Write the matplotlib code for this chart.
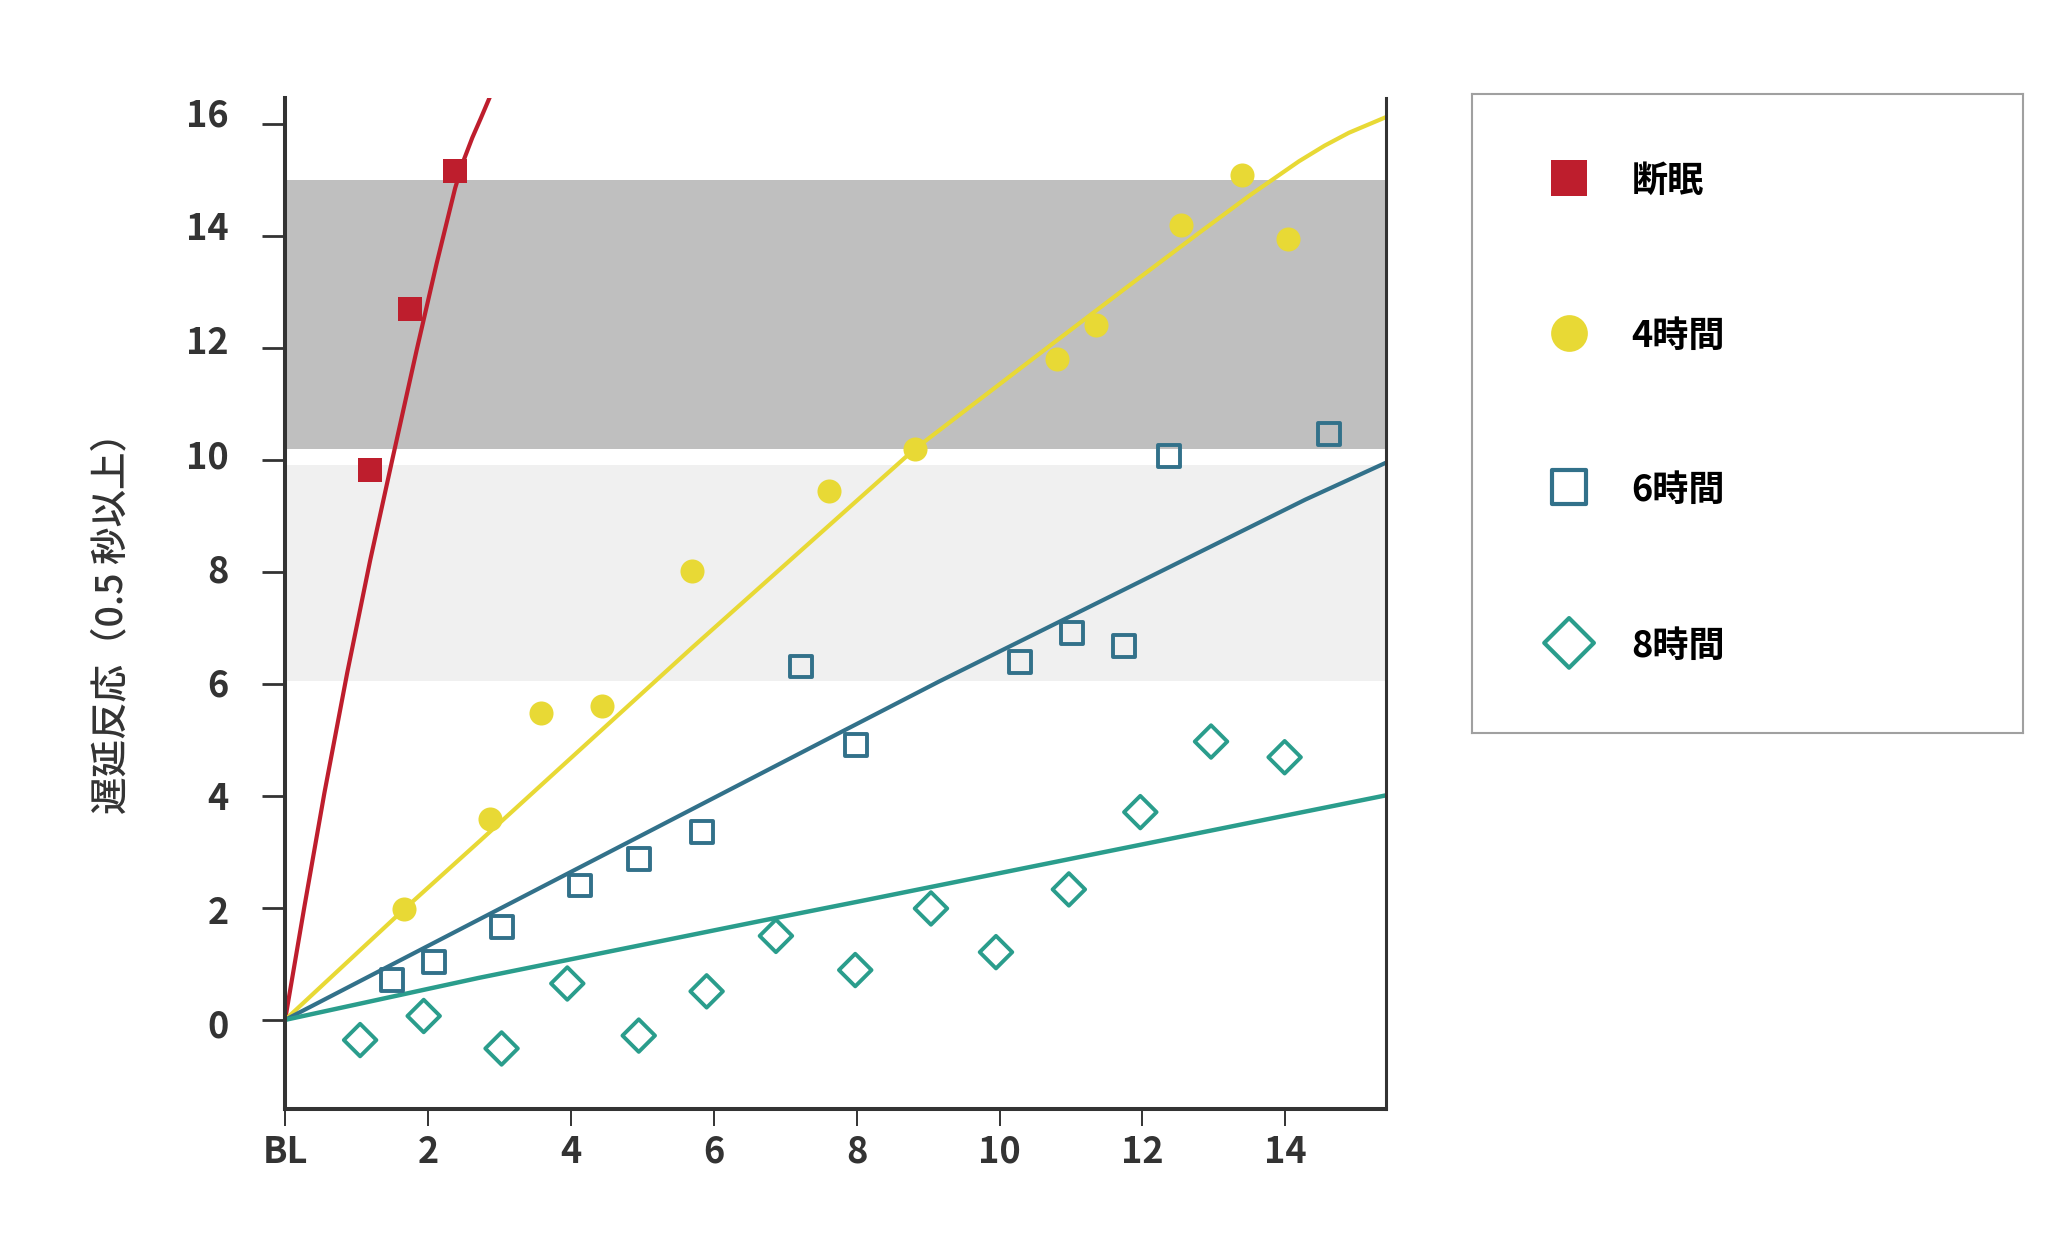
import matplotlib
matplotlib.use("Agg")
import matplotlib.pyplot as plt
from matplotlib.transforms import ScaledTranslation

plt.rcParams['font.family'] = ['Noto Sans CJK JP', 'DejaVu Sans']

# --- data ---
labels = ['断眠', '4時間', '6時間', '8時間']
colors = ['#be1e2d', '#e8d935', '#32718a', '#2a9d8c']

# measured points (day, lapses)
red_x = [1.19, 1.75, 2.38]
red_y = [9.82, 12.69, 15.15]
yel_x = [1.67, 2.87, 3.58, 4.44, 5.70, 7.61, 8.81, 10.80, 11.35, 12.54, 13.40, 14.04]
yel_y = [1.98, 3.59, 5.48, 5.60, 8.02, 9.45, 10.19, 11.80, 12.41, 14.20, 15.09, 13.95]
sq_x = [1.49, 2.08, 3.03, 4.13, 4.95, 5.83, 7.22, 7.99, 10.29, 11.01, 11.74, 12.37, 14.61]
sq_y = [0.71, 1.03, 1.66, 2.40, 2.87, 3.36, 6.31, 4.90, 6.39, 6.90, 6.67, 10.06, 10.46]
dia_x = [1.05, 1.94, 3.03, 3.95, 4.95, 5.90, 6.87, 7.98, 9.04, 9.95, 10.97, 11.97, 12.96, 13.99]
dia_y = [-0.36, 0.07, -0.51, 0.65, -0.28, 0.51, 1.50, 0.89, 1.99, 1.21, 2.33, 3.71, 4.97, 4.69]

# fitted curves
red_cx = [0, 0.27, 0.55, 0.87, 1.19, 1.50, 1.84, 2.12, 2.38, 2.50, 2.62, 2.74, 2.86]
red_cy = [0, 2.02, 4.05, 6.20, 8.20, 10.0, 11.95, 13.5, 14.85, 15.35, 15.75, 16.1, 16.46]
yel_cx = [0, 1.67, 2.73, 5.70, 8.81, 10.80, 11.80, 12.79, 13.50, 14.19, 14.55, 14.89, 15.41]
yel_cy = [0, 1.98, 3.20, 6.65, 10.19, 12.13, 13.10, 14.05, 14.72, 15.33, 15.61, 15.84, 16.12]
sq_cx = [0, 2.71, 7.57, 9.15, 14.28, 15.41]
sq_cy = [0, 1.79, 5.00, 6.04, 9.29, 9.95]
dia_cx = [0, 2.71, 6.63, 8.13, 15.41]
dia_cy = [0, 0.75, 1.76, 2.14, 4.01]

# shaded bands
dark_band = (10.2, 15.0)
light_band = (6.05, 9.9)

xticks = [0, 2, 4, 6, 8, 10, 12, 14]
xticklabels = ['BL', '2', '4', '6', '8', '10', '12', '14']
yticks = [0, 2, 4, 6, 8, 10, 12, 14, 16]

ink = '#333333'

fig = plt.figure(figsize=(20.48, 12.33), dpi=100)
ax = fig.add_axes([0.1392, 0.1006, 0.5376, 0.8199])

ax.axhspan(*dark_band, color='#bfbfbf', lw=0, zorder=0)
ax.axhspan(*light_band, color='#f0f0f0', lw=0, zorder=0)

ax.plot(red_cx, red_cy, color=colors[0], lw=3.0, zorder=2, solid_joinstyle='round')
ax.plot(yel_cx, yel_cy, color=colors[1], lw=3.0, zorder=2, solid_joinstyle='round')
ax.plot(sq_cx, sq_cy, color=colors[2], lw=3.0, zorder=2, solid_joinstyle='round')
ax.plot(dia_cx, dia_cy, color=colors[3], lw=3.2, zorder=2, solid_joinstyle='round')

ax.scatter(red_x, red_y, marker='s', s=300, color=colors[0], lw=0, zorder=3)
ax.scatter(yel_x, yel_y, marker='o', s=300, color=colors[1], lw=0, zorder=3)
ax.scatter(sq_x, sq_y, marker='s', s=250, facecolors='none', edgecolors=colors[2], lw=2.8, zorder=3)
ax.scatter(dia_x, dia_y, marker='D', s=275, facecolors='none', edgecolors=colors[3], lw=2.8, zorder=3)

ax.set_xlim(0, 15.41)
ax.set_ylim(-1.59, 16.46)
ax.set_xticks(xticks)
ax.set_xticklabels(xticklabels)
ax.set_yticks(yticks)

ax.spines['top'].set_visible(False)
ax.spines['left'].set_linewidth(2.9)
ax.spines['bottom'].set_linewidth(2.9)
ax.spines['right'].set_linewidth(2.2)
for sp in ax.spines.values():
    sp.set_color(ink)

ax.tick_params(axis='y', length=16.5, width=2, color=ink, pad=24, labelsize=26, labelcolor=ink)
ax.tick_params(axis='x', length=12, width=1.4, color=ink, pad=6, labelsize=26, labelcolor=ink)
for lab in ax.get_xticklabels() + ax.get_yticklabels():
    lab.set_fontweight('bold')
# y labels drift upward from their ticks in the original (0 a bit low, 16 well above)
for v, lab in zip(yticks, ax.get_yticklabels()):
    dy = (-3.5 + 0.97 * v) * 0.72
    lab.set_transform(lab.get_transform() + ScaledTranslation(0, dy / 72, fig.dpi_scale_trans))

ax.set_ylabel('遅延反応（0.5 秒以上）', fontsize=27, fontweight='medium', color=ink)
ax.yaxis.set_label_coords(-0.141, 0.49)

# legend box
lax = fig.add_axes([0.7188, 0.4055, 0.2690, 0.5183])
lax.set_xlim(0, 1)
lax.set_ylim(0, 1)
lax.set_xticks([])
lax.set_yticks([])
for sp in lax.spines.values():
    sp.set_color('#a0a0a0')
    sp.set_linewidth(1.5)

rows = [0.869, 0.626, 0.385, 0.141]
lax.scatter([0.176], [rows[0]], marker='s', s=700, color=colors[0], lw=0)
lax.scatter([0.176], [rows[1]], marker='o', s=700, color=colors[1], lw=0)
lax.scatter([0.176], [rows[2]], marker='s', s=580, facecolors='none', edgecolors=colors[2], lw=3)
lax.scatter([0.176], [rows[3]], marker='D', s=640, facecolors='none', edgecolors=colors[3], lw=3)
for r, lab in zip(rows, labels):
    lax.text(0.289, r - 0.006, lab, fontsize=26, fontweight='bold', color='black', va='center', ha='left')

fig.savefig('out.png', dpi=100)
